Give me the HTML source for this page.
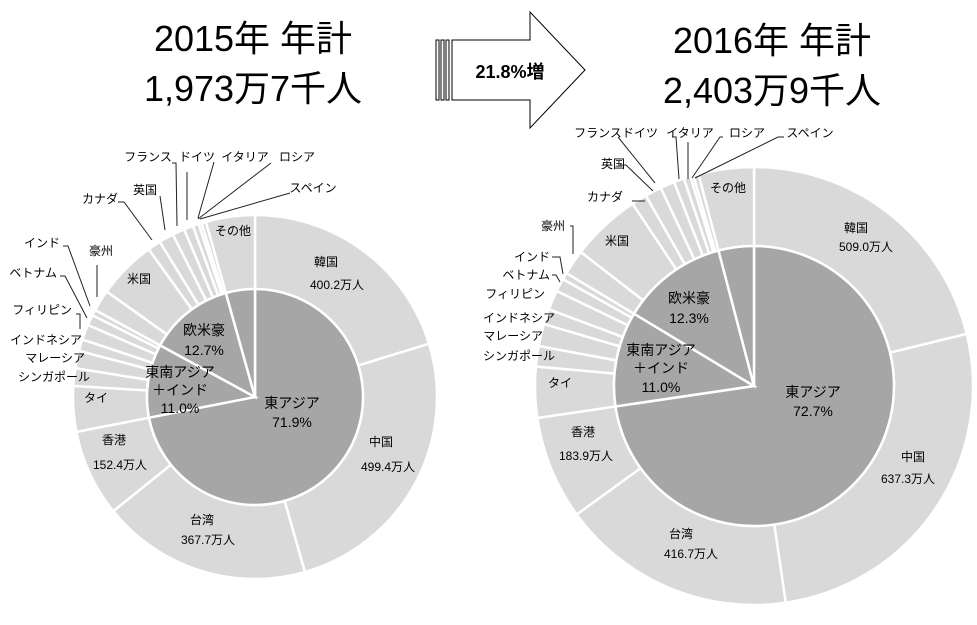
<!DOCTYPE html>
<html><head><meta charset="utf-8"><style>
body{margin:0;background:#fff;}
svg{display:block;font-family:"Liberation Sans","Noto Sans CJK JP",sans-serif;}
.t{font-size:12px;fill:#000}
.in{font-size:14px;fill:#000}
.big{font-size:36px;fill:#000}
</style></head><body>
<svg id="s" width="977" height="625" viewBox="0 0 977 625" xmlns="http://www.w3.org/2000/svg">
<g id="pies"></g>
<text class="big" x="253" y="51" text-anchor="middle">2015年 年計</text>
<text class="big" x="253" y="101" text-anchor="middle">1,973万7千人</text>
<text class="big" x="772" y="53" text-anchor="middle">2016年 年計</text>
<text class="big" x="772" y="103" text-anchor="middle">2,403万9千人</text>
<g stroke="#000" stroke-width="1" fill="#fff">
<rect x="436" y="40" width="3" height="60"/><rect x="441" y="40" width="3" height="60"/><rect x="446" y="40" width="3" height="60"/>
<path d="M452 40 H530 V12 L585 70 L530 128 V100 H452 Z"/>
</g>
<text x="510" y="78" text-anchor="middle" style="font-size:18px;font-weight:bold">21.8%増</text>
<g id="labels"></g>
</svg>
<script>
var NS="http://www.w3.org/2000/svg";
function pt(cx,cy,r,a){return [cx+r*Math.sin(a),cy-r*Math.cos(a)];}
function slice(g,cx,cy,r0,r1,a0,a1,fill){
 var p=document.createElementNS(NS,"path"),lg=(a1-a0)>Math.PI?1:0;
 var A=pt(cx,cy,r1,a0),B=pt(cx,cy,r1,a1),d;
 if(r0==0){d="M"+cx+" "+cy+" L"+A+" A"+r1+" "+r1+" 0 "+lg+" 1 "+B+" Z";}
 else{var C=pt(cx,cy,r0,a1),D=pt(cx,cy,r0,a0);
 d="M"+A+" A"+r1+" "+r1+" 0 "+lg+" 1 "+B+" L"+C+" A"+r0+" "+r0+" 0 "+lg+" 0 "+D+" Z";}
 p.setAttribute("d",d);p.setAttribute("fill",fill);p.setAttribute("stroke","#fff");p.setAttribute("stroke-width","2.5");g.appendChild(p);}
function pie(cx,cy,ri,ro,outer,groups){
 var g=document.getElementById("pies"),tot=outer.reduce(function(a,b){return a+b},0),a=0;
 outer.forEach(function(v){var b=a+v/tot*2*Math.PI;slice(g,cx,cy,ri,ro,a,b,"#d9d9d9");a=b;});
 a=0;groups.forEach(function(v){var b=a+v/tot*2*Math.PI;slice(g,cx,cy,0,ri,a,b,"#a6a6a6");a=b;});}
pie(255,397,108,182,[400.2,499.4,367.7,152.4,79.7,30.9,30.5,20.5,26.8,18.5,10.3,37.6,103.3,23.1,25.8,21.4,16.3,10.4,5.4,7.7,85.8],[1419.7,217.2,251,85.8]);
pie(754,386,140,219,[509.0,637.3,416.7,183.9,90.2,36.2,39.4,27.1,34.8,23.4,12.3,44.5,124.3,27.3,29.3,25.3,18.3,11.9,5.5,9.2,98.0],[1746.9,263.4,295.6,98.0]);
var L=[
[326,266,"韓国","m"],[337,289,"400.2万人","m"],[381,446,"中国","m"],[388,471,"499.4万人","m"],
[202,524,"台湾","m"],[208,544,"367.7万人","m"],[114,444,"香港","m"],[120,469,"152.4万人","m"],
[96,402,"タイ","m"],[90,381,"シンガポール","e"],[85,362,"マレーシア","e"],[82,344,"インドネシア","e"],
[72,314,"フィリピン","e"],[57,277,"ベトナム","e"],[60,247,"インド","e"],[101,255,"豪州","m"],[139,283,"米国","m"],
[100,203,"カナダ","m"],[145,194,"英国","m"],[148,161,"フランス","m"],[197,161,"ドイツ","m"],[245,161,"イタリア","m"],
[297,161,"ロシア","m"],[313,192,"スペイン","m"],[233,235,"その他","m"],
[856,232,"韓国","m"],[866,251,"509.0万人","m"],[913,461,"中国","m"],[908,483,"637.3万人","m"],
[681,538,"台湾","m"],[691,558,"416.7万人","m"],[583,436,"香港","m"],[586,460,"183.9万人","m"],
[560,387,"タイ","m"],[555,360,"シンガポール","e"],[543,340,"マレーシア","e"],[555,322,"インドネシア","e"],
[545,298,"フィリピン","e"],[550,279,"ベトナム","e"],[550,261,"インド","e"],[553,230,"豪州","m"],[617,245,"米国","m"],
[605,201,"カナダ","m"],[613,168,"英国","m"],[598,137,"フランス","m"],[640,137,"ドイツ","m"],[690,137,"イタリア","m"],
[747,137,"ロシア","m"],[810,137,"スペイン","m"],[728,192,"その他","m"]];
var lg=document.getElementById("labels");
L.forEach(function(l){var t=document.createElementNS(NS,"text");t.setAttribute("x",l[0]);t.setAttribute("y",l[1]);
t.setAttribute("class","t");t.setAttribute("text-anchor",l[3]=="e"?"end":"middle");t.textContent=l[2];lg.appendChild(t);});
var I=[[292,408,"東アジア"],[292,427,"71.9%"],[204,335,"欧米豪"],[204,355,"12.7%"],[180,377,"東南アジア"],[180,395,"＋インド"],[180,413,"11.0%"],
[813,397,"東アジア"],[813,416,"72.7%"],[689,303,"欧米豪"],[689,323,"12.3%"],[661,355,"東南アジア"],[661,373,"＋インド"],[661,392,"11.0%"]];
I.forEach(function(l){var t=document.createElementNS(NS,"text");t.setAttribute("x",l[0]);t.setAttribute("y",l[1]);
t.setAttribute("class","in");t.setAttribute("text-anchor","middle");t.textContent=l[2];lg.appendChild(t);});
var P=["97,265 97,297","63,246 68,246 90,306","60,276 65,276 87,318","76,314 80,314 80,329","118,202 124,202 152,240","160,196 165,230","172,163 176,163 177,226","187,172 187,220","214,162 198,218","271,163 198,219 ","290,193 200,219 ",
"570,226 573,226 573,254","552,257 560,257 563,274","552,275 556,275 560,282","632,201 645,201","620,165 626,165 653,191","618,137 655,183","672,137 676,137 679,179","688,142 688,179","723,137 720,137 692,178","784,137 778,137 695,178"];
P.forEach(function(s){var p=document.createElementNS(NS,"polyline");p.setAttribute("points",s);p.setAttribute("fill","none");p.setAttribute("stroke","#222");p.setAttribute("stroke-width","1");lg.appendChild(p);});
</script>
</body></html>
